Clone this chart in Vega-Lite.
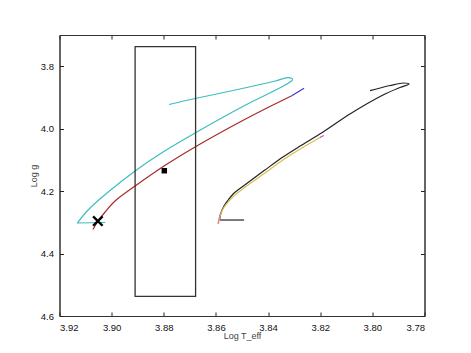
{
  "$schema": "https://vega.github.io/schema/vega-lite/v6.json",
  "width": 365,
  "height": 281,
  "autosize": "none",
  "padding": {"left": 59.5, "top": 35, "right": 46.5, "bottom": 37},
  "config": {
    "view": {"stroke": "#333", "strokeWidth": 1},
    "axis": {
      "grid": false,
      "labelFont": "Liberation Sans",
      "labelFontSize": 9.5,
      "labelColor": "#111",
      "tickColor": "#222",
      "tickWidth": 1,
      "domainColor": "#333",
      "tickSize": -4,
      "labelPadding": 10,
      "titleFont": "Liberation Sans",
      "titleFontSize": 9,
      "titleFontWeight": "normal",
      "titleColor": "#444"
    }
  },
  "datasets": {
    "tracks": [
      {"s": "cyan", "i": 1, "T": 3.8780, "g": 3.9226},
      {"s": "cyan", "i": 2, "T": 3.8680, "g": 3.9034},
      {"s": "cyan", "i": 3, "T": 3.8508, "g": 3.8730},
      {"s": "cyan", "i": 4, "T": 3.8373, "g": 3.8473},
      {"s": "cyan", "i": 5, "T": 3.8324, "g": 3.8368},
      {"s": "cyan", "i": 6, "T": 3.8306, "g": 3.8425},
      {"s": "cyan", "i": 7, "T": 3.8335, "g": 3.8602},
      {"s": "cyan", "i": 8, "T": 3.8488, "g": 3.9249},
      {"s": "cyan", "i": 9, "T": 3.8680, "g": 4.0139},
      {"s": "cyan", "i": 10, "T": 3.8815, "g": 4.0812},
      {"s": "cyan", "i": 11, "T": 3.8910, "g": 4.1356},
      {"s": "cyan", "i": 12, "T": 3.9018, "g": 4.2061},
      {"s": "cyan", "i": 13, "T": 3.9083, "g": 4.2541},
      {"s": "cyan", "i": 14, "T": 3.9132, "g": 4.3022},
      {"s": "cyan2", "i": 1, "T": 3.9132, "g": 4.3022},
      {"s": "cyan2", "i": 2, "T": 3.9025, "g": 4.3006},
      {"s": "red", "i": 1, "T": 3.9072, "g": 4.3230},
      {"s": "red", "i": 2, "T": 3.9053, "g": 4.2974},
      {"s": "red", "i": 3, "T": 3.9025, "g": 4.2669},
      {"s": "red", "i": 4, "T": 3.8987, "g": 4.2317},
      {"s": "red", "i": 5, "T": 3.8910, "g": 4.1837},
      {"s": "red", "i": 6, "T": 3.8799, "g": 4.1196},
      {"s": "red", "i": 7, "T": 3.8680, "g": 4.0587},
      {"s": "red", "i": 8, "T": 3.8508, "g": 3.9787},
      {"s": "red", "i": 9, "T": 3.8393, "g": 3.9290},
      {"s": "red", "i": 10, "T": 3.8309, "g": 3.8944},
      {"s": "blue", "i": 1, "T": 3.8309, "g": 3.8944},
      {"s": "blue", "i": 2, "T": 3.8262, "g": 3.8707},
      {"s": "black2", "i": 1, "T": 3.8492, "g": 4.2926},
      {"s": "black2", "i": 2, "T": 3.8584, "g": 4.2926},
      {"s": "black", "i": 2, "T": 3.8586, "g": 4.2926},
      {"s": "black", "i": 3, "T": 3.8581, "g": 4.2701},
      {"s": "black", "i": 4, "T": 3.8569, "g": 4.2477},
      {"s": "black", "i": 5, "T": 3.8553, "g": 4.2285},
      {"s": "black", "i": 6, "T": 3.8534, "g": 4.2093},
      {"s": "black", "i": 7, "T": 3.8508, "g": 4.1917},
      {"s": "black", "i": 8, "T": 3.8469, "g": 4.1677},
      {"s": "black", "i": 9, "T": 3.8412, "g": 4.1324},
      {"s": "black", "i": 10, "T": 3.8343, "g": 4.0908},
      {"s": "black", "i": 11, "T": 3.8277, "g": 4.0555},
      {"s": "black", "i": 12, "T": 3.8189, "g": 4.0107},
      {"s": "black", "i": 13, "T": 3.8086, "g": 3.9530},
      {"s": "black", "i": 14, "T": 3.7959, "g": 3.8922},
      {"s": "black", "i": 15, "T": 3.7894, "g": 3.8682},
      {"s": "black", "i": 16, "T": 3.7859, "g": 3.8570},
      {"s": "black", "i": 17, "T": 3.7879, "g": 3.8537},
      {"s": "black", "i": 18, "T": 3.7932, "g": 3.8618},
      {"s": "black", "i": 19, "T": 3.8009, "g": 3.8784},
      {"s": "yellow", "i": 1, "T": 3.8590, "g": 4.3038},
      {"s": "yellow", "i": 2, "T": 3.8584, "g": 4.2798},
      {"s": "yellow", "i": 3, "T": 3.8573, "g": 4.2573},
      {"s": "yellow", "i": 4, "T": 3.8557, "g": 4.2381},
      {"s": "yellow", "i": 5, "T": 3.8531, "g": 4.2157},
      {"s": "yellow", "i": 6, "T": 3.8469, "g": 4.1757},
      {"s": "yellow", "i": 7, "T": 3.8412, "g": 4.1420},
      {"s": "yellow", "i": 8, "T": 3.8343, "g": 4.1004},
      {"s": "yellow", "i": 9, "T": 3.8277, "g": 4.0652},
      {"s": "yellow", "i": 10, "T": 3.8197, "g": 4.0267},
      {"s": "pink", "i": 1, "T": 3.8592, "g": 4.3054},
      {"s": "pink", "i": 2, "T": 3.8584, "g": 4.2734},
      {"s": "magenta", "i": 1, "T": 3.8201, "g": 4.0283},
      {"s": "magenta", "i": 2, "T": 3.8186, "g": 4.0219}
    ],
    "box": [{"T1": 3.8910, "T2": 3.8678, "g1": 3.7375, "g2": 4.537}],
    "square": [{"T": 3.8798, "g": 4.1347}],
    "cross": [{"T": 3.9053, "g": 4.2958}]
  },
  "layer": [
    {
      "data": {"name": "tracks"},
      "mark": {"type": "line", "strokeWidth": 1.2, "interpolate": "catmull-rom"},
      "encoding": {
        "x": {
          "field": "T", "type": "quantitative",
          "scale": {"domain": [3.78, 3.92], "reverse": true, "zero": false, "nice": false},
          "axis": {"orient": "bottom", "title": "Log T_eff", "values": [3.92, 3.9, 3.88, 3.86, 3.84, 3.82, 3.8, 3.78], "format": ".2f", "titlePadding": 0}
        },
        "y": {
          "field": "g", "type": "quantitative",
          "scale": {"domain": [3.7, 4.6], "reverse": true, "zero": false, "nice": false},
          "axis": {"orient": "left", "title": "Log g", "values": [3.8, 4.0, 4.2, 4.4, 4.6], "format": ".1f", "titlePadding": 2}
        },
        "color": {
          "field": "s", "type": "nominal", "legend": null,
          "scale": {
            "domain": ["cyan", "cyan2", "red", "blue", "black", "black2", "yellow", "pink", "magenta"],
            "range": ["#3dbdbd", "#3dbdbd", "#a82a2a", "#3a3ad0", "#222222", "#222222", "#d6bd55", "#e07a8a", "#d050c0"]
          }
        },
        "order": {"field": "i", "type": "quantitative"}
      }
    },
    {
      "data": {"name": "box"},
      "mark": {"type": "rect", "fill": null, "fillOpacity": 0, "stroke": "#333", "strokeWidth": 1.3},
      "encoding": {
        "x": {"field": "T1", "type": "quantitative", "axis": {"orient": "top", "labels": false, "title": null, "values": [3.92, 3.9, 3.88, 3.86, 3.84, 3.82, 3.8, 3.78]}},
        "x2": {"field": "T2"},
        "y": {"field": "g1", "type": "quantitative", "axis": {"orient": "right", "labels": false, "title": null, "values": [3.8, 4.0, 4.2, 4.4, 4.6]}},
        "y2": {"field": "g2"}
      }
    },
    {
      "data": {"name": "square"},
      "mark": {"type": "point", "shape": "square", "filled": true, "color": "#000", "size": 30, "opacity": 1},
      "encoding": {
        "x": {"field": "T", "type": "quantitative", "axis": null},
        "y": {"field": "g", "type": "quantitative", "axis": null}
      }
    },
    {
      "data": {"name": "cross"},
      "mark": {"type": "point", "shape": "M-1,-1L1,1M1,-1L-1,1", "filled": false, "stroke": "#000", "strokeWidth": 2.4, "size": 90, "opacity": 1},
      "encoding": {
        "x": {"field": "T", "type": "quantitative", "axis": null},
        "y": {"field": "g", "type": "quantitative", "axis": null}
      }
    }
  ],
  "resolve": {"axis": {"x": "independent", "y": "independent"}}
}
